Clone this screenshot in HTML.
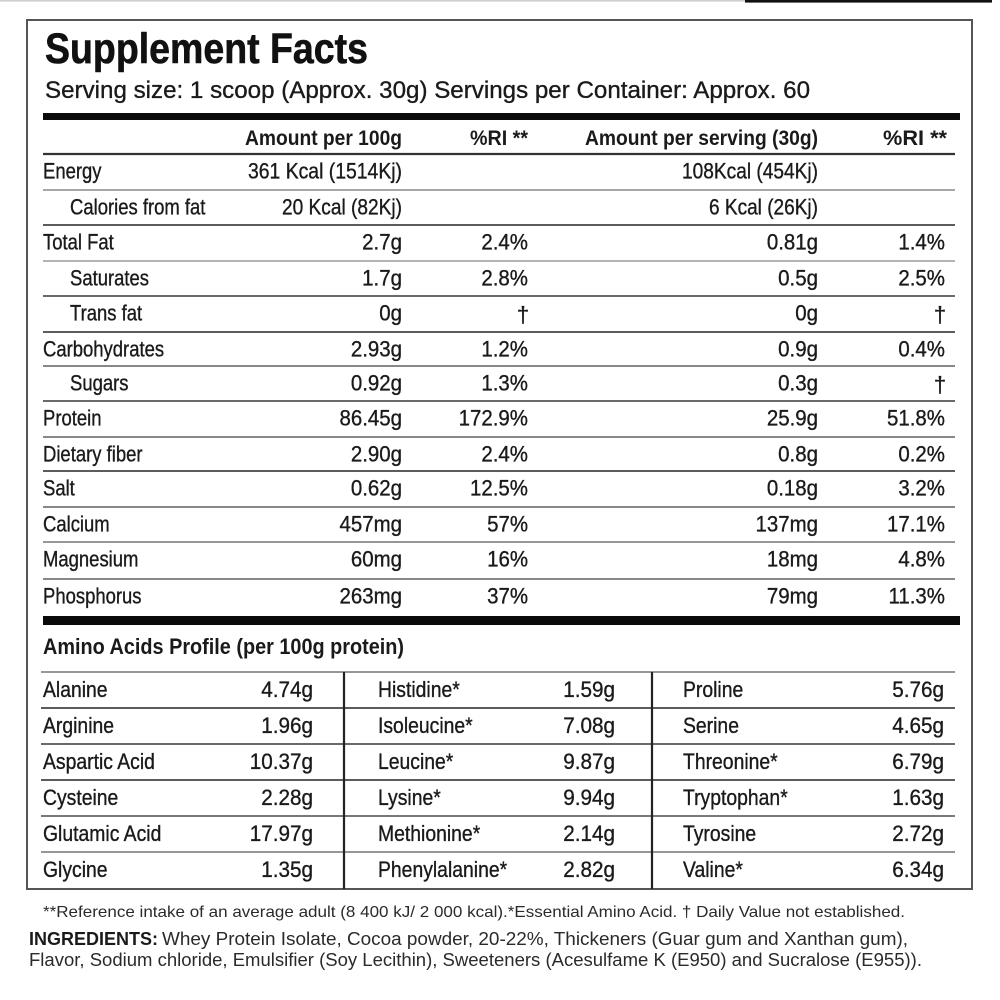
<!DOCTYPE html>
<html><head><meta charset="utf-8"><style>
html,body{margin:0;padding:0;background:#fff;}
svg{display:block;}
text{font-family:"Liberation Sans",sans-serif;fill:#1a1a1a;}
.b text, text.b{stroke:#1a1a1a;stroke-width:0.35;}
</style></head><body>
<svg width="1000" height="1000" viewBox="0 0 1000 1000" xmlns="http://www.w3.org/2000/svg">
<rect x="0" y="0" width="1000" height="1000" fill="#fff"/>
<line x1="0" y1="0.8" x2="745" y2="0.8" stroke="#cfcfcf" stroke-width="1.6"/>
<rect x="745" y="0" width="247" height="2.6" fill="#111"/>
<rect x="27" y="20" width="945" height="869" fill="none" stroke="#555" stroke-width="2"/>

<text x="45" y="63" font-size="43" font-weight="bold" textLength="323" lengthAdjust="spacingAndGlyphs" style="fill:#111;stroke:#111;stroke-width:0.6">Supplement Facts</text>
<text class="b" x="45" y="98" font-size="24" textLength="765" lengthAdjust="spacingAndGlyphs">Serving size: 1 scoop (Approx. 30g) Servings per Container: Approx. 60</text>
<rect x="43" y="113" width="917" height="7" fill="#0a0a0a"/>

<g font-size="21" font-weight="bold">
<text x="245" y="145" textLength="157" lengthAdjust="spacingAndGlyphs">Amount per 100g</text>
<text x="470" y="145" textLength="58" lengthAdjust="spacingAndGlyphs">%RI **</text>
<text x="585" y="145" textLength="233" lengthAdjust="spacingAndGlyphs">Amount per serving (30g)</text>
<text x="883" y="145" textLength="64" lengthAdjust="spacingAndGlyphs">%RI **</text>
</g>

<g stroke-width="1.8">
<line x1="43" y1="154" x2="955" y2="154" stroke="#333" stroke-width="2.2"/>
<line x1="43" y1="190" x2="955" y2="190" stroke="#999"/>
<line x1="43" y1="225" x2="955" y2="225" stroke="#444"/>
<line x1="43" y1="261" x2="955" y2="261" stroke="#aaa"/>
<line x1="43" y1="296" x2="955" y2="296" stroke="#555"/>
<line x1="43" y1="332" x2="955" y2="332" stroke="#444"/>
<line x1="43" y1="366" x2="955" y2="366" stroke="#777"/>
<line x1="43" y1="401" x2="955" y2="401" stroke="#555"/>
<line x1="43" y1="437" x2="955" y2="437" stroke="#777"/>
<line x1="43" y1="471" x2="955" y2="471" stroke="#444"/>
<line x1="43" y1="507" x2="955" y2="507" stroke="#777"/>
<line x1="43" y1="542" x2="955" y2="542" stroke="#888"/>
<line x1="43" y1="579" x2="955" y2="579" stroke="#777"/>
</g>

<g font-size="22" class="b">
<text transform="translate(43,178.5) scale(0.84,1)">Energy</text>
<text transform="translate(70,214.5) scale(0.84,1)">Calories from fat</text>
<text transform="translate(43,249.5) scale(0.84,1)">Total Fat</text>
<text transform="translate(70,285.5) scale(0.84,1)">Saturates</text>
<text transform="translate(70,320.5) scale(0.84,1)">Trans fat</text>
<text transform="translate(43,356.5) scale(0.84,1)">Carbohydrates</text>
<text transform="translate(70,390.5) scale(0.84,1)">Sugars</text>
<text transform="translate(43,425.5) scale(0.84,1)">Protein</text>
<text transform="translate(43,461.5) scale(0.84,1)">Dietary fiber</text>
<text transform="translate(43,495.5) scale(0.84,1)">Salt</text>
<text transform="translate(43,531.5) scale(0.84,1)">Calcium</text>
<text transform="translate(43,566.5) scale(0.84,1)">Magnesium</text>
<text transform="translate(43,603.5) scale(0.84,1)">Phosphorus</text>

<text x="248" y="178.5" textLength="154" lengthAdjust="spacingAndGlyphs">361 Kcal (1514Kj)</text>
<text x="282" y="214.5" textLength="120" lengthAdjust="spacingAndGlyphs">20 Kcal (82Kj)</text>
<text x="682" y="178.5" textLength="136" lengthAdjust="spacingAndGlyphs">108Kcal (454Kj)</text>
<text x="709" y="214.5" textLength="109" lengthAdjust="spacingAndGlyphs">6 Kcal (26Kj)</text>

<g text-anchor="end">
<text transform="translate(402,249.5) scale(0.93,1)">2.7g</text>
<text transform="translate(402,285.5) scale(0.93,1)">1.7g</text>
<text transform="translate(402,320.5) scale(0.93,1)">0g</text>
<text transform="translate(402,356.5) scale(0.93,1)">2.93g</text>
<text transform="translate(402,390.5) scale(0.93,1)">0.92g</text>
<text transform="translate(402,425.5) scale(0.93,1)">86.45g</text>
<text transform="translate(402,461.5) scale(0.93,1)">2.90g</text>
<text transform="translate(402,495.5) scale(0.93,1)">0.62g</text>
<text transform="translate(402,531.5) scale(0.93,1)">457mg</text>
<text transform="translate(402,566.5) scale(0.93,1)">60mg</text>
<text transform="translate(402,603.5) scale(0.93,1)">263mg</text>
<text transform="translate(528,249.5) scale(0.93,1)">2.4%</text>
<text transform="translate(528,285.5) scale(0.93,1)">2.8%</text>
<text transform="translate(528,356.5) scale(0.93,1)">1.2%</text>
<text transform="translate(528,390.5) scale(0.93,1)">1.3%</text>
<text transform="translate(528,425.5) scale(0.93,1)">172.9%</text>
<text transform="translate(528,461.5) scale(0.93,1)">2.4%</text>
<text transform="translate(528,495.5) scale(0.93,1)">12.5%</text>
<text transform="translate(528,531.5) scale(0.93,1)">57%</text>
<text transform="translate(528,566.5) scale(0.93,1)">16%</text>
<text transform="translate(528,603.5) scale(0.93,1)">37%</text>
<text transform="translate(818,249.5) scale(0.93,1)">0.81g</text>
<text transform="translate(818,285.5) scale(0.93,1)">0.5g</text>
<text transform="translate(818,320.5) scale(0.93,1)">0g</text>
<text transform="translate(818,356.5) scale(0.93,1)">0.9g</text>
<text transform="translate(818,390.5) scale(0.93,1)">0.3g</text>
<text transform="translate(818,425.5) scale(0.93,1)">25.9g</text>
<text transform="translate(818,461.5) scale(0.93,1)">0.8g</text>
<text transform="translate(818,495.5) scale(0.93,1)">0.18g</text>
<text transform="translate(818,531.5) scale(0.93,1)">137mg</text>
<text transform="translate(818,566.5) scale(0.93,1)">18mg</text>
<text transform="translate(818,603.5) scale(0.93,1)">79mg</text>
<text transform="translate(945,249.5) scale(0.93,1)">1.4%</text>
<text transform="translate(945,285.5) scale(0.93,1)">2.5%</text>
<text transform="translate(945,356.5) scale(0.93,1)">0.4%</text>
<text transform="translate(945,425.5) scale(0.93,1)">51.8%</text>
<text transform="translate(945,461.5) scale(0.93,1)">0.2%</text>
<text transform="translate(945,495.5) scale(0.93,1)">3.2%</text>
<text transform="translate(945,531.5) scale(0.93,1)">17.1%</text>
<text transform="translate(945,566.5) scale(0.93,1)">4.8%</text>
<text transform="translate(945,603.5) scale(0.93,1)">11.3%</text>
</g>
<g text-anchor="middle">
<text x="523" y="322">†</text>
<text x="940" y="322">†</text>
<text x="940" y="392">†</text>
</g>
</g>

<rect x="43" y="616" width="917" height="9" fill="#0a0a0a"/>
<text x="43" y="654" font-size="22" font-weight="bold" textLength="361" lengthAdjust="spacingAndGlyphs">Amino Acids Profile (per 100g protein)</text>

<g stroke-width="1.8">
<line x1="41" y1="672" x2="955" y2="672" stroke="#888"/>
<line x1="41" y1="708" x2="955" y2="708" stroke="#444"/>
<line x1="41" y1="744" x2="955" y2="744" stroke="#555"/>
<line x1="41" y1="780" x2="955" y2="780" stroke="#444"/>
<line x1="41" y1="816" x2="955" y2="816" stroke="#666"/>
<line x1="41" y1="852" x2="955" y2="852" stroke="#888"/>
<line x1="344" y1="672" x2="344" y2="889" stroke="#222" stroke-width="2.2"/>
<line x1="652" y1="672" x2="652" y2="889" stroke="#222" stroke-width="2.2"/>
</g>

<g font-size="22" class="b">
<text transform="translate(43,697) scale(0.88,1)">Alanine</text>
<text transform="translate(43,733) scale(0.88,1)">Arginine</text>
<text transform="translate(43,769) scale(0.88,1)">Aspartic Acid</text>
<text transform="translate(43,805) scale(0.88,1)">Cysteine</text>
<text transform="translate(43,841) scale(0.88,1)">Glutamic Acid</text>
<text transform="translate(43,877) scale(0.88,1)">Glycine</text>
<text transform="translate(378,697) scale(0.88,1)">Histidine*</text>
<text transform="translate(378,733) scale(0.88,1)">Isoleucine*</text>
<text transform="translate(378,769) scale(0.88,1)">Leucine*</text>
<text transform="translate(378,805) scale(0.88,1)">Lysine*</text>
<text transform="translate(378,841) scale(0.88,1)">Methionine*</text>
<text transform="translate(378,877) scale(0.88,1)">Phenylalanine*</text>
<text transform="translate(683,697) scale(0.88,1)">Proline</text>
<text transform="translate(683,733) scale(0.88,1)">Serine</text>
<text transform="translate(683,769) scale(0.88,1)">Threonine*</text>
<text transform="translate(683,805) scale(0.88,1)">Tryptophan*</text>
<text transform="translate(683,841) scale(0.88,1)">Tyrosine</text>
<text transform="translate(683,877) scale(0.88,1)">Valine*</text>
<g text-anchor="end">
<text transform="translate(313,697) scale(0.94,1)">4.74g</text>
<text transform="translate(313,733) scale(0.94,1)">1.96g</text>
<text transform="translate(313,769) scale(0.94,1)">10.37g</text>
<text transform="translate(313,805) scale(0.94,1)">2.28g</text>
<text transform="translate(313,841) scale(0.94,1)">17.97g</text>
<text transform="translate(313,877) scale(0.94,1)">1.35g</text>
<text transform="translate(615,697) scale(0.94,1)">1.59g</text>
<text transform="translate(615,733) scale(0.94,1)">7.08g</text>
<text transform="translate(615,769) scale(0.94,1)">9.87g</text>
<text transform="translate(615,805) scale(0.94,1)">9.94g</text>
<text transform="translate(615,841) scale(0.94,1)">2.14g</text>
<text transform="translate(615,877) scale(0.94,1)">2.82g</text>
<text transform="translate(944,697) scale(0.94,1)">5.76g</text>
<text transform="translate(944,733) scale(0.94,1)">4.65g</text>
<text transform="translate(944,769) scale(0.94,1)">6.79g</text>
<text transform="translate(944,805) scale(0.94,1)">1.63g</text>
<text transform="translate(944,841) scale(0.94,1)">2.72g</text>
<text transform="translate(944,877) scale(0.94,1)">6.34g</text>
</g>
</g>

<text x="43" y="917" font-size="16" textLength="862" lengthAdjust="spacingAndGlyphs" style="fill:#2a2a2a">**Reference intake of an average adult (8 400 kJ/ 2 000 kcal).*Essential Amino Acid. † Daily Value not established.</text>
<text x="29" y="945" font-size="18" font-weight="bold" textLength="129" lengthAdjust="spacingAndGlyphs" style="fill:#1a1a1a">INGREDIENTS:</text>
<text x="162" y="945" font-size="18" textLength="746" lengthAdjust="spacingAndGlyphs" style="fill:#2a2a2a">Whey Protein Isolate, Cocoa powder, 20-22%, Thickeners (Guar gum and Xanthan gum),</text>
<text x="29" y="966" font-size="18" textLength="893" lengthAdjust="spacingAndGlyphs" style="fill:#2a2a2a">Flavor, Sodium chloride, Emulsifier (Soy Lecithin), Sweeteners (Acesulfame K (E950) and Sucralose (E955)).</text>
</svg>
</body></html>
